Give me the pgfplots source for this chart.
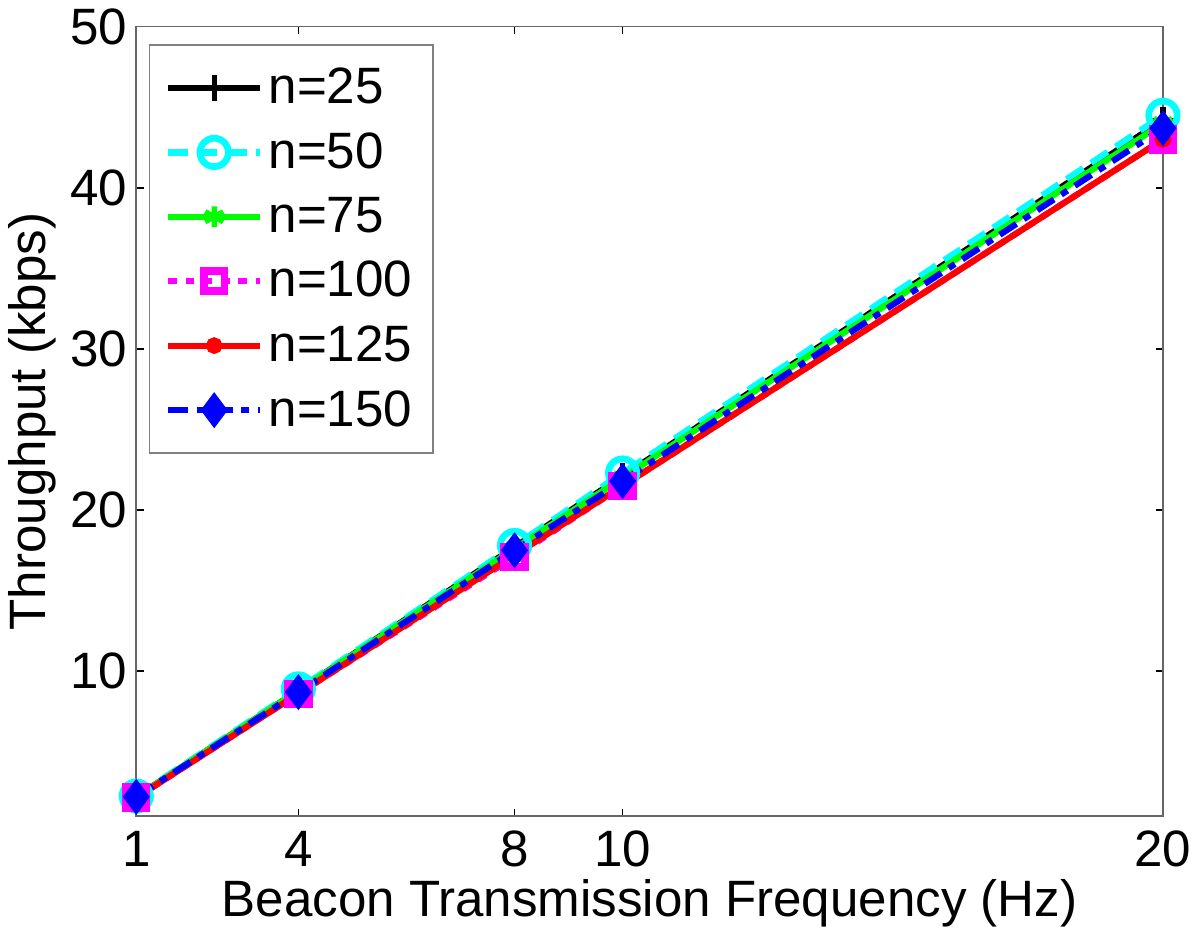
\documentclass[border=0pt]{standalone}
\usepackage{fontspec}
\setmainfont{Liberation Sans}
\usepackage{pgfplots}
\pgfplotsset{compat=1.18}
\definecolor{mcyan}{RGB}{0,255,255}
\definecolor{mgreen}{RGB}{0,255,0}
\definecolor{mmagenta}{RGB}{255,0,255}
\definecolor{mred}{RGB}{255,0,0}
\definecolor{mblue}{RGB}{0,0,255}
\begin{document}
\begin{tikzpicture}
\begin{axis}[scale only axis,width=13.98cm,height=10.75cm,
xmin=1,xmax=20,ymin=1,ymax=50,
xtick={1,4,8,10,20},ytick={10,20,30,40,50},
tick align=inside,major tick length=0.1cm,
tick style={black,line width=0.6pt},
axis line style={gray!80!black,line width=0.6pt},
/pgf/number format/assume math mode=true,
tick label style={font=\fontsize{19.8}{23}\selectfont},
label style={font=\fontsize{19.8}{23}\selectfont},
xticklabel style={yshift=-0.08cm},
xlabel={Beacon Transmission Frequency (Hz)},
ylabel={Throughput (kbps)},
xlabel style={yshift=0.08cm},
ylabel style={yshift=-0.05cm},
legend cell align=left,
legend style={at={(0.012,0.978)},anchor=north west,draw=gray,line width=0.6pt,
  font=\fontsize{19.8}{23}\selectfont,row sep=0.2cm,inner xsep=6pt,inner ysep=7pt,
  nodes={inner xsep=2pt}},
legend image code/.code={\draw[mark repeat=2,mark phase=2] plot coordinates {(0cm,0cm) (0.63cm,0cm) (1.26cm,0cm)};},
every axis plot/.append style={line width=2.4pt}]
\addplot[black,solid,mark=+,mark size=5pt,mark options={solid,line width=2pt}] coordinates {(1,2.2) (4,8.8) (8,17.7) (10,22.1) (20,44.2)};
\addlegendentry{n=25}
\addplot[mcyan,dash pattern=on 0.27cm off 0.13cm,mark=o,mark size=5.5pt,mark options={solid,line width=2.6pt}] coordinates {(1,2.25) (4,8.9) (8,17.8) (10,22.3) (20,44.5)};
\addlegendentry{n=50}
\addplot[mgreen,solid,mark=asterisk,mark size=4pt,mark options={solid,line width=2pt}] coordinates {(1,2.2) (4,8.8) (8,17.6) (10,22.0) (20,44.0)};
\addlegendentry{n=75}
\addplot[mmagenta,dash pattern=on 0.12cm off 0.12cm,mark=square,mark size=4pt,mark options={solid,line width=3pt}] coordinates {(1,2.15) (4,8.6) (8,17.1) (10,21.5) (20,43.0)};
\addlegendentry{n=100}
\addplot[mred,solid,mark=*,mark size=2pt,mark options={solid}] coordinates {(1,2.15) (4,8.6) (8,17.2) (10,21.5) (20,43.0)};
\addlegendentry{n=125}
\addplot[mblue,dash pattern=on 0.27cm off 0.12cm on 0.1cm off 0.12cm,mark=diamond*,mark size=5pt,mark options={solid}] coordinates {(1,2.2) (4,8.7) (8,17.5) (10,21.8) (20,43.7)};
\addlegendentry{n=150}
\end{axis}
\end{tikzpicture}
\end{document}
